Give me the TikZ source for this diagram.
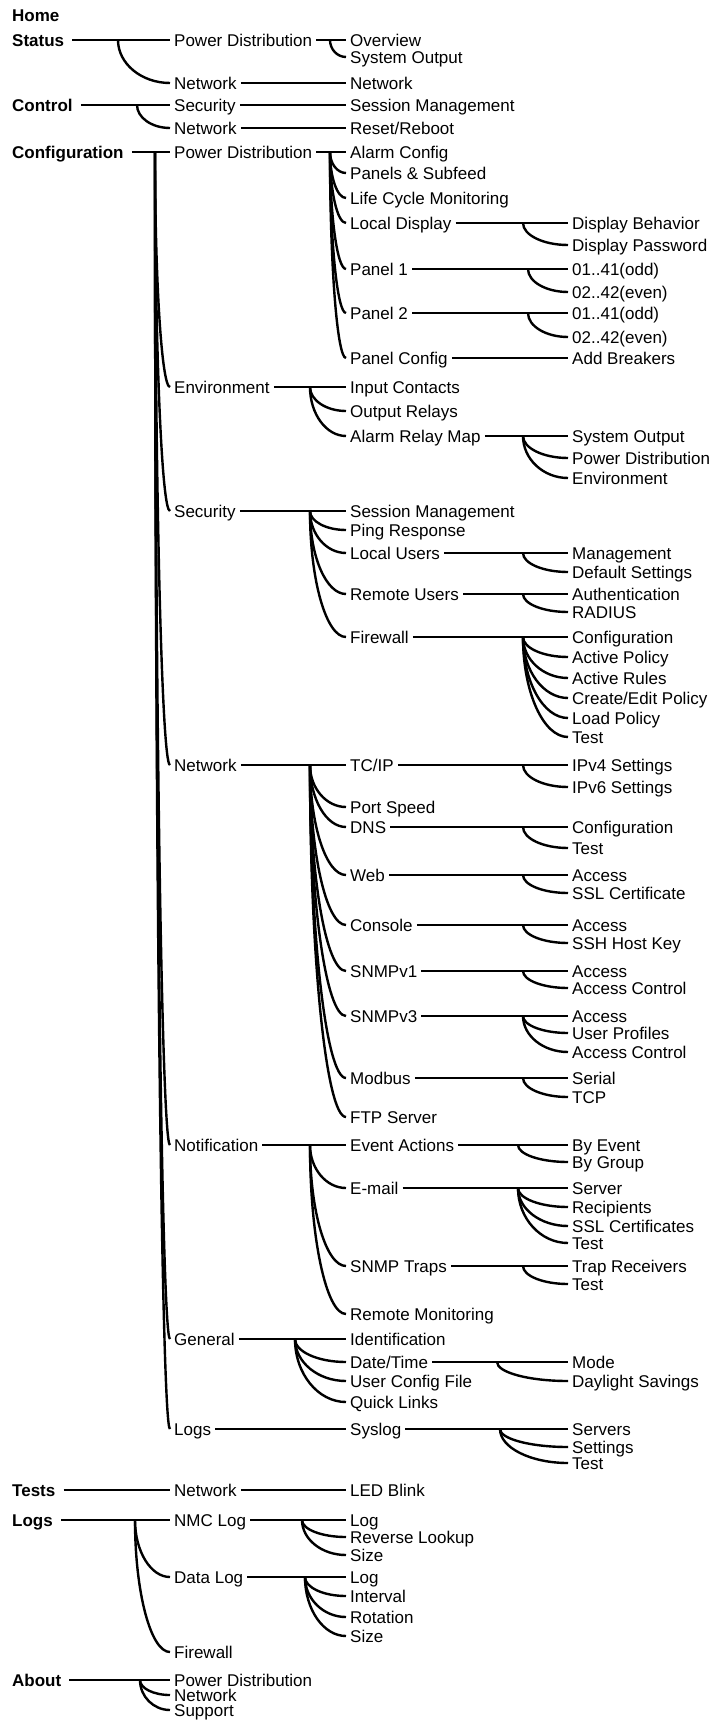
\documentclass[tikz,border=0pt]{standalone}
\usepackage{fontspec}
\setmainfont{Liberation Sans}
\usetikzlibrary{calc}
\tikzset{
  menuitem/.style={anchor=west, inner xsep=4pt, inner ysep=0pt,
    text height=12.2pt, text depth=0pt, font=\fontsize{17}{20}\selectfont},
  menuhead/.style={menuitem, inner xsep=8pt, font=\fontsize{17}{20}\selectfont\bfseries},
  wire/.style={line width=2.4pt},
}

\begin{document}
\begin{tikzpicture}[x=1pt,y=-1pt]
  \useasboundingbox (0,0) rectangle (711,1720);

  % top level
  \foreach \n/\y/\lab in {home/15/Home, status/40/Status, control/105/Control,
      config/152/Configuration, tests/1490/Tests, logs/1520/Logs, about/1680/About}
    \node[menuhead] (\n) at (4,\y) {\lab};

  % second column
  \foreach \n/\y/\lab in {stPD/40/Power Distribution, stNet/83/Network,
      ctSec/105/Security, ctNet/128/Network,
      cfPD/152/Power Distribution, cfEnv/387/Environment, cfSec/511/Security,
      cfNet/765/Network, cfNot/1145/Notification, cfGen/1339/General, cfLog/1429/Logs,
      tsNet/1490/Network, lgNmc/1520/NMC Log, lgData/1577/Data Log, lgFw/1652/Firewall,
      abPD/1680/Power Distribution, abNet/1695/Network, abSup/1710/Support}
    \node[menuitem] (\n) at (170,\y) {\lab};

  % third column
  \foreach \n/\y/\lab in {stOver/40/Overview, stOut/57/System Output, stNet2/83/Network,
      ctSess/105/Session Management, ctReset/128/{Reset/Reboot},
      pdAlarm/152/Alarm Config, pdPanels/173/Panels \& Subfeed, pdLife/198/Life Cycle Monitoring,
      pdDisp/223/Local Display, pdP1/269/Panel 1, pdP2/313/Panel 2, pdCfg/358/Panel Config,
      envIn/387/Input Contacts, envOut/411/Output Relays, envMap/436/Alarm Relay Map,
      secSess/511/Session Management, secPing/530/Ping Response, secLocal/553/Local Users,
      secRemote/594/Remote Users, secFw/637/Firewall,
      netTcp/765/{TC/IP}, netPort/807/Port Speed, netDns/827/DNS, netWeb/875/Web,
      netCon/925/Console, netV1/971/SNMPv1, netV3/1016/SNMPv3, netMod/1078/Modbus,
      netFtp/1117/FTP Server,
      notEv/1145/Event Actions, notMail/1188/E-mail, notTrap/1266/SNMP Traps,
      notRem/1314/Remote Monitoring,
      genId/1339/Identification, genDate/1362/{Date/Time}, genUser/1381/User Config File,
      genQuick/1402/Quick Links, logSys/1429/Syslog, tsLed/1490/LED Blink,
      nmcLog/1520/Log, nmcRev/1537/Reverse Lookup, nmcSize/1555/Size,
      dataLog/1577/Log, dataInt/1596/Interval, dataRot/1617/Rotation, dataSize/1636/Size}
    \node[menuitem] (\n) at (346,\y) {\lab};

  % fourth column
  \foreach \n/\y/\lab in {dispBeh/223/Display Behavior, dispPw/245/Display Password,
      p1Odd/269/01..41(odd), p1Even/292/02..42(even),
      p2Odd/313/01..41(odd), p2Even/337/02..42(even), cfgAdd/358/Add Breakers,
      mapOut/436/System Output, mapPD/458/Power Distribution, mapEnv/478/Environment,
      locMgmt/553/Management, locDef/572/Default Settings,
      remAuth/594/Authentication, remRad/612/RADIUS,
      fwCfg/637/Configuration, fwAct/657/Active Policy, fwRules/678/Active Rules,
      fwEdit/698/{Create/Edit Policy}, fwLoad/718/Load Policy, fwTest/737/Test,
      tcpV4/765/IPv4 Settings, tcpV6/787/IPv6 Settings,
      dnsCfg/827/Configuration, dnsTest/848/Test,
      webAcc/875/Access, webSsl/893/SSL Certificate,
      conAcc/925/Access, conSsh/943/SSH Host Key,
      v1Acc/971/Access, v1Ctl/988/Access Control,
      v3Acc/1016/Access, v3Prof/1033/User Profiles, v3Ctl/1052/Access Control,
      modSer/1078/Serial, modTcp/1097/TCP,
      evEvent/1145/By Event, evGroup/1162/By Group,
      mailSrv/1188/Server, mailRec/1207/Recipients, mailSsl/1226/SSL Certificates,
      mailTest/1243/Test, trapRec/1266/Trap Receivers, trapTest/1284/Test,
      dateMode/1362/Mode, dateDst/1381/Daylight Savings,
      sysSrv/1429/Servers, sysSet/1447/Settings, sysTest/1463/Test}
    \node[menuitem] (\n) at (568,\y) {\lab};

  % single links
  \foreach \p/\f in {stNet/stNet2, ctSec/ctSess, ctNet/ctReset, cfLog/logSys,
      pdCfg/cfgAdd, tests/tsNet, tsNet/tsLed}
    \draw[wire] (\p.east) -- (\f.west);

  % forks: parent / junction x / first child / other children
  \foreach \p/\j/\f/\rest in {status/118/stPD/{stNet}, control/137/ctSec/{ctNet},
      config/155/cfPD/{cfEnv,cfSec,cfNet,cfNot,cfGen,cfLog},
      logs/135/lgNmc/{lgData,lgFw}, about/140/abPD/{abNet,abSup},
      stPD/330/stOver/{stOut},
      cfPD/330/pdAlarm/{pdPanels,pdLife,pdDisp,pdP1,pdP2,pdCfg},
      cfEnv/310/envIn/{envOut,envMap},
      cfSec/310/secSess/{secPing,secLocal,secRemote,secFw},
      cfNet/310/netTcp/{netPort,netDns,netWeb,netCon,netV1,netV3,netMod,netFtp},
      cfNot/310/notEv/{notMail,notTrap,notRem},
      cfGen/295/genId/{genDate,genUser,genQuick},
      lgNmc/302/nmcLog/{nmcRev,nmcSize}, lgData/305/dataLog/{dataInt,dataRot,dataSize},
      pdDisp/523/dispBeh/{dispPw}, pdP1/528/p1Odd/{p1Even}, pdP2/528/p2Odd/{p2Even},
      envMap/523/mapOut/{mapPD,mapEnv},
      secLocal/523/locMgmt/{locDef}, secRemote/523/remAuth/{remRad},
      secFw/523/fwCfg/{fwAct,fwRules,fwEdit,fwLoad,fwTest},
      netTcp/523/tcpV4/{tcpV6}, netDns/523/dnsCfg/{dnsTest}, netWeb/523/webAcc/{webSsl},
      netCon/523/conAcc/{conSsh}, netV1/523/v1Acc/{v1Ctl}, netV3/523/v3Acc/{v3Prof,v3Ctl},
      netMod/523/modSer/{modTcp},
      notEv/518/evEvent/{evGroup}, notMail/518/mailSrv/{mailRec,mailSsl,mailTest},
      notTrap/523/trapRec/{trapTest},
      genDate/497/dateMode/{dateDst}, logSys/500/sysSrv/{sysSet,sysTest}}
  {
    \draw[wire] (\p.east) -- (\f.west);
    \foreach \c in \rest {
      \coordinate (jn) at (\j,0 |- \p.east);
      \coordinate (kn) at (\j,0 |- \c.west);
      \draw[wire] (jn) .. controls ($(jn)!0.55!(kn)$) and ($(\c.west)!0.55!(kn)$) .. (\c.west);
    }
  }
\end{tikzpicture}
\end{document}
